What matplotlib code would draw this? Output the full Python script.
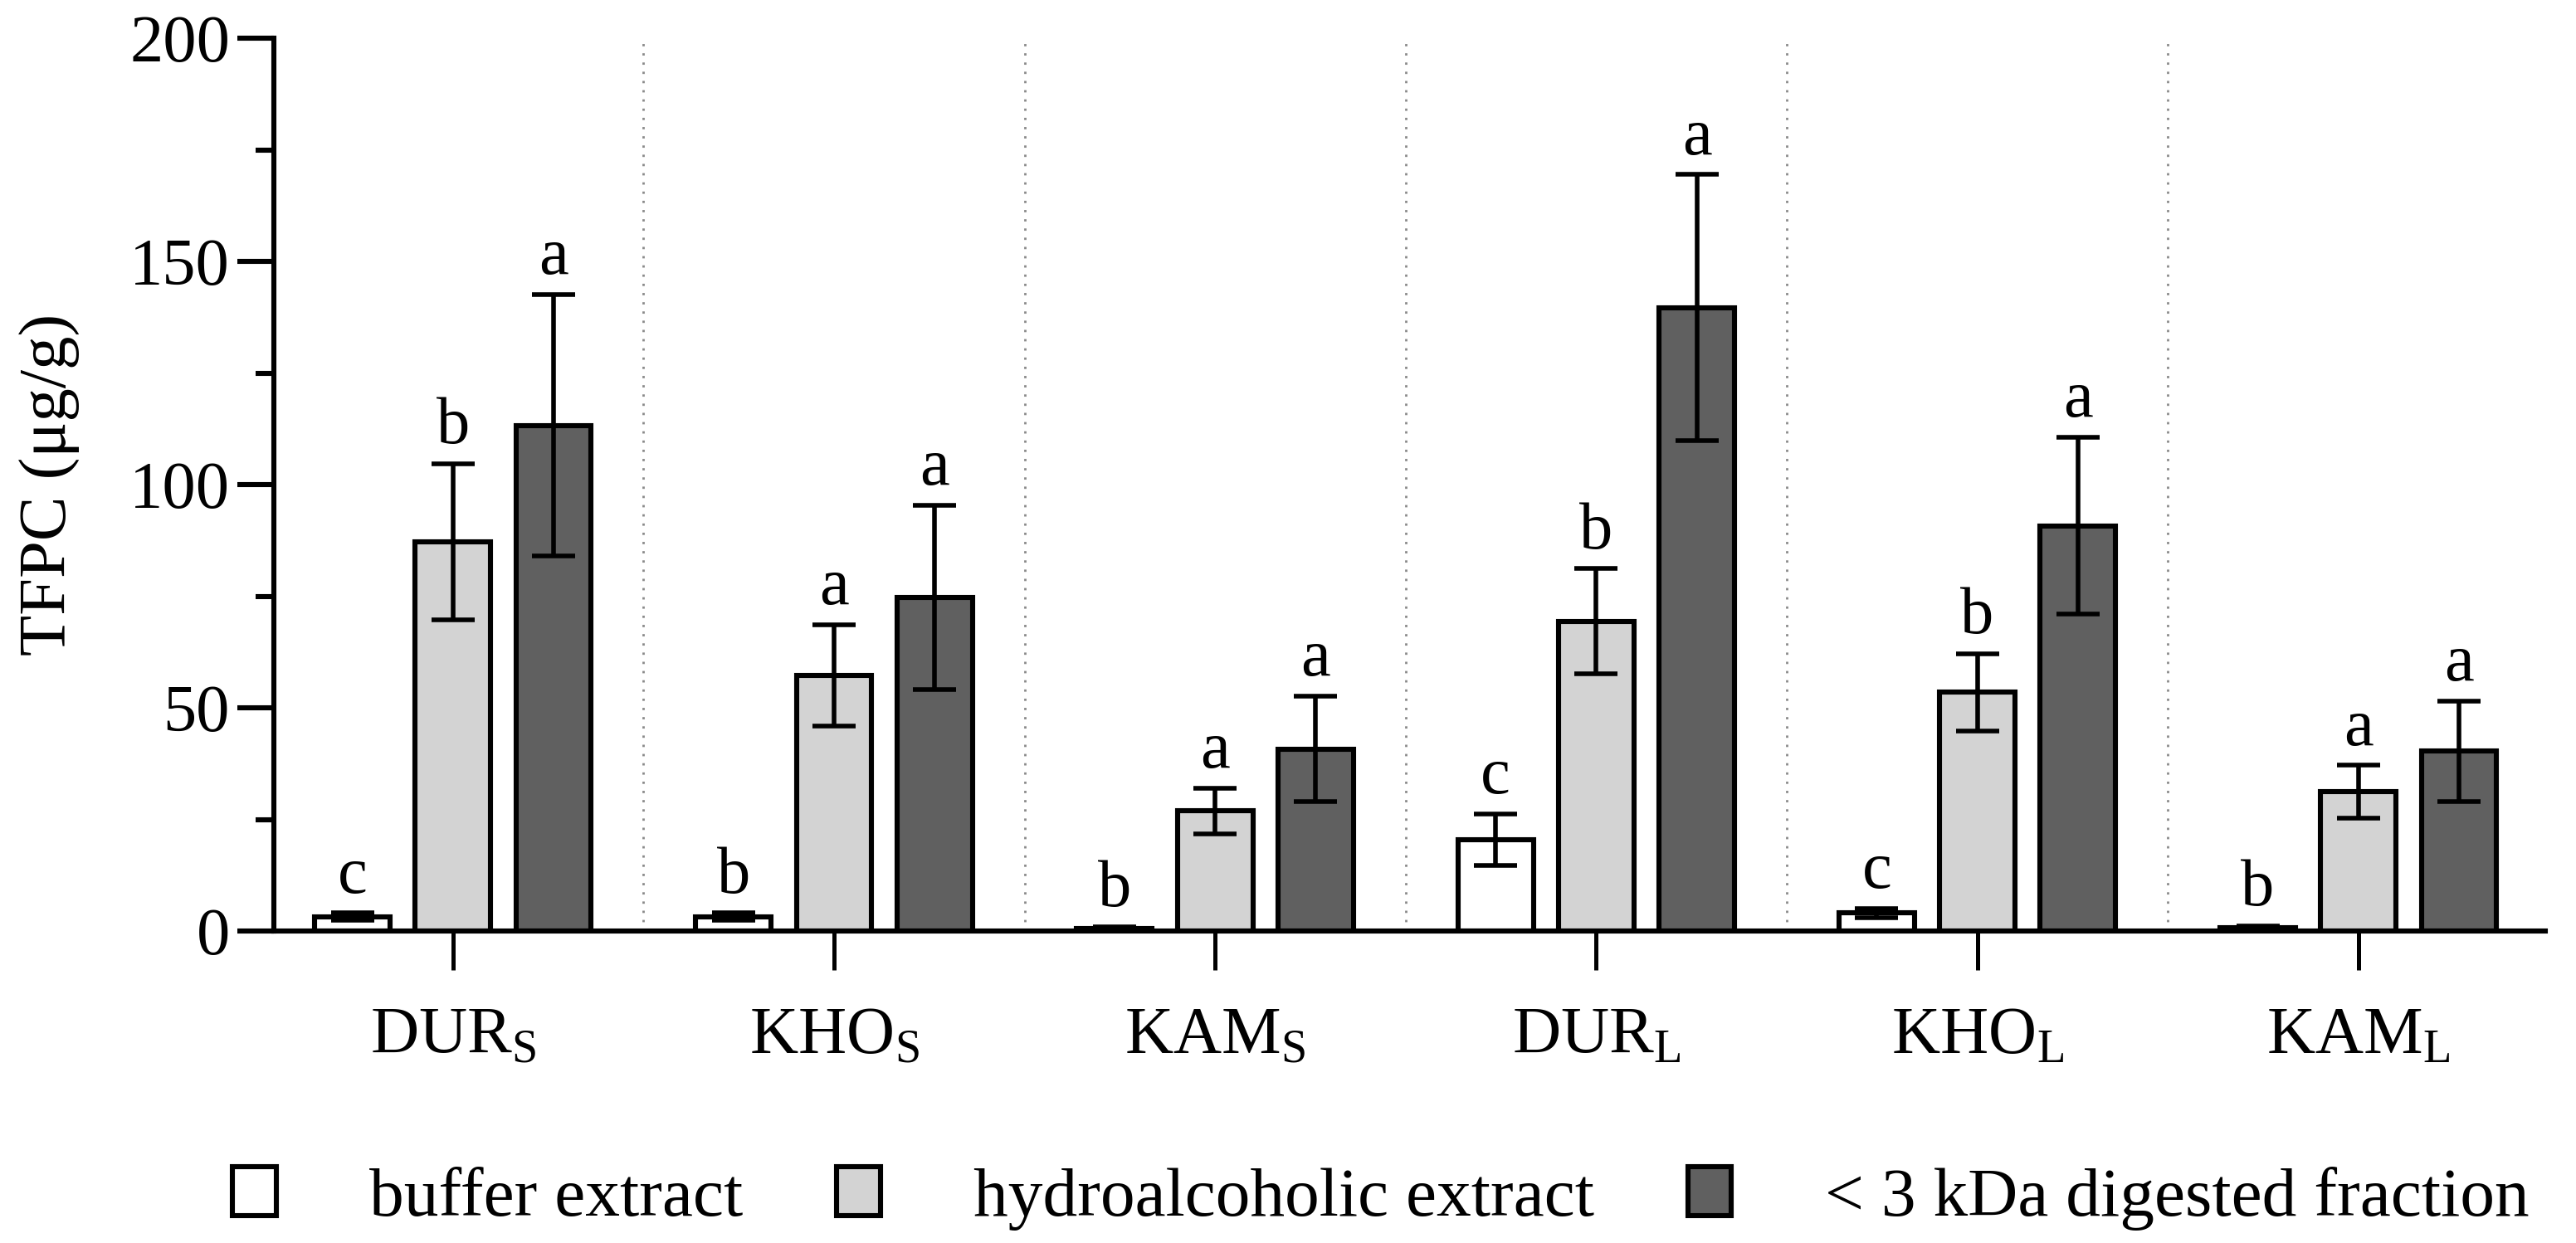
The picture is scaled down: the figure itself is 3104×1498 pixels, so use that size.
import matplotlib
matplotlib.use('Agg')
import matplotlib.pyplot as plt
import numpy as np
from matplotlib.patches import Patch
from matplotlib.ticker import MultipleLocator

plt.rcParams['font.family'] = ['Liberation Serif', 'DejaVu Serif']
plt.rcParams['mathtext.fontset'] = 'custom'
plt.rcParams['mathtext.rm'] = 'Liberation Serif'
plt.rcParams['mathtext.it'] = 'Liberation Serif:italic'

# data
groups = ['DUR$_\\mathrm{S}$', 'KHO$_\\mathrm{S}$', 'KAM$_\\mathrm{S}$',
          'DUR$_\\mathrm{L}$', 'KHO$_\\mathrm{L}$', 'KAM$_\\mathrm{L}$']
series = ['buffer extract', 'hydroalcoholic extract', '< 3 kDa digested fraction']
colors = ['white', '#d3d3d3', '#606060']

buffer_vals = [3.2, 3.2, 0.6, 20.4, 4.0, 0.7]
buffer_err = [0.8, 0.8, 0.3, 5.8, 1.0, 0.4]
hydro_vals = [87.2, 57.3, 26.9, 69.4, 53.5, 31.2]
hydro_err = [17.5, 11.3, 5.1, 11.8, 8.6, 5.9]
frac_vals = [113.3, 74.8, 40.8, 139.7, 90.8, 40.3]
frac_err = [29.3, 20.6, 11.8, 29.8, 19.8, 11.3]

buffer_let = ['c', 'b', 'b', 'c', 'c', 'b']
hydro_let = ['b', 'a', 'a', 'b', 'b', 'a']
frac_let = ['a', 'a', 'a', 'a', 'a', 'a']

vals = [buffer_vals, hydro_vals, frac_vals]
errs = [buffer_err, hydro_err, frac_err]
lets = [buffer_let, hydro_let, frac_let]

fs = 29
fig = plt.figure(figsize=(15.52, 7.49), dpi=200)
ax = fig.add_axes([0.1063, 0.251, 0.8817, 0.718])

x = np.arange(len(groups))
offs = [-0.264, 0, 0.264]
w = 0.198
for k in range(3):
    ax.bar(x + offs[k], vals[k], width=w, color=colors[k], edgecolor='black',
           linewidth=2.2, zorder=3)
    ax.errorbar(x + offs[k], vals[k], yerr=errs[k], fmt='none', ecolor='black',
                elinewidth=2.0, capsize=9.5, capthick=2.0, zorder=4)
    for i in range(len(groups)):
        ax.text(x[i] + offs[k], vals[k][i] + errs[k][i] + 4.6, lets[k][i],
                ha='center', va='baseline', fontsize=fs)

# dotted separators between groups
for s in x[:-1] + 0.5:
    ax.plot([s, s], [0, 200], color='#8a8a8a', linestyle=(0, (1, 3)),
            linewidth=1.0, zorder=1)

ax.set_xlim(-0.47, 5.49)
ax.set_ylim(0, 200)
ax.spines['top'].set_visible(False)
ax.spines['right'].set_visible(False)
ax.spines['left'].set_linewidth(2.2)
ax.spines['bottom'].set_linewidth(2.2)
ax.spines['bottom'].set_zorder(5)

ax.yaxis.set_major_locator(MultipleLocator(50))
ax.yaxis.set_minor_locator(MultipleLocator(25))
ax.tick_params(axis='y', which='major', length=16, width=2.2, labelsize=fs, pad=3)
ax.tick_params(axis='y', which='minor', length=8, width=2.2)
ax.set_xticks(x)
ax.set_xticklabels(groups)
ax.tick_params(axis='x', length=17, width=1.8, labelsize=fs, pad=16)

ax.set_ylabel('TFPC (μg/g)', fontsize=fs)
ax.yaxis.set_label_coords(-0.085, 0.5)

handles = [Patch(facecolor=c, edgecolor='black', linewidth=2.2) for c in colors]
fig.legend(handles, series, loc='center', bbox_to_anchor=(0.536, 0.036), ncol=3,
           frameon=False, fontsize=30, handlelength=0.63, handleheight=0.72,
           handletextpad=1.35, columnspacing=1.35)

fig.savefig('out.png', dpi=200)
